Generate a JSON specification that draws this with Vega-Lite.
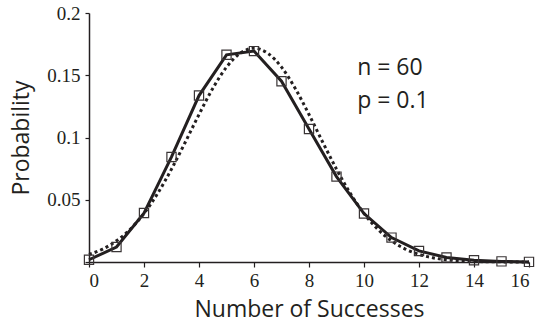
{
  "$schema": "https://vega.github.io/schema/vega-lite/v6.json",
  "width": 440,
  "height": 249,
  "autosize": "none",
  "padding": {"left": 89, "top": 13, "right": 13, "bottom": 64},
  "background": "white",
  "config": {"view": {"stroke": null}},
  "datasets": {
    "binom": [
      {"k": 0, "p": 0.0018}, {"k": 1, "p": 0.0120}, {"k": 2, "p": 0.0393},
      {"k": 3, "p": 0.0844}, {"k": 4, "p": 0.1337}, {"k": 5, "p": 0.1664},
      {"k": 6, "p": 0.1694}, {"k": 7, "p": 0.1452}, {"k": 8, "p": 0.1068},
      {"k": 9, "p": 0.0686}, {"k": 10, "p": 0.0389}, {"k": 11, "p": 0.0196},
      {"k": 12, "p": 0.0089}, {"k": 13, "p": 0.0037}, {"k": 14, "p": 0.0014},
      {"k": 15, "p": 0.0005}, {"k": 16, "p": 0.0001}
    ],
    "normal": [
      {"x": 0, "y": 0.0061}, {"x": 0.5, "y": 0.0104}, {"x": 1, "y": 0.0170},
      {"x": 1.5, "y": 0.0263}, {"x": 2, "y": 0.0390}, {"x": 2.5, "y": 0.0552},
      {"x": 3, "y": 0.0746}, {"x": 3.5, "y": 0.0962}, {"x": 4, "y": 0.1185},
      {"x": 4.5, "y": 0.1394}, {"x": 5, "y": 0.1565}, {"x": 5.5, "y": 0.1677},
      {"x": 6, "y": 0.1717}, {"x": 6.5, "y": 0.1677}, {"x": 7, "y": 0.1565},
      {"x": 7.5, "y": 0.1394}, {"x": 8, "y": 0.1185}, {"x": 8.5, "y": 0.0962},
      {"x": 9, "y": 0.0746}, {"x": 9.5, "y": 0.0552}, {"x": 10, "y": 0.0390},
      {"x": 10.5, "y": 0.0263}, {"x": 11, "y": 0.0170}, {"x": 11.5, "y": 0.0104},
      {"x": 12, "y": 0.0061}, {"x": 12.5, "y": 0.0034}, {"x": 13, "y": 0.0018},
      {"x": 13.5, "y": 0.0009}, {"x": 14, "y": 0.0005}, {"x": 14.5, "y": 0.0002},
      {"x": 15, "y": 0.0001}, {"x": 16, "y": 0.0000}
    ],
    "notes": [
      {"label": "n = 60", "x": 9.75, "y": 0.1562},
      {"label": "p = 0.1", "x": 9.75, "y": 0.1295}
    ]
  },
  "layer": [
    {
      "data": {"name": "normal"},
      "mark": {"type": "line", "color": "#231f20", "strokeWidth": 3, "strokeDash": [3, 3], "interpolate": "monotone"},
      "encoding": {
        "x": {
          "field": "x", "type": "quantitative",
          "scale": {"domain": [0, 16], "nice": false},
          "axis": {
            "title": "Number of Successes", "values": [0, 2, 4, 6, 8, 10, 12, 14, 16],
            "grid": false, "domainColor": "#231f20", "domainWidth": 1.5,
            "tickColor": "#231f20", "tickWidth": 1.2, "tickSize": 5,
            "labelFont": "Liberation Serif", "labelFontSize": 19, "labelColor": "#231f20", "labelPadding": 4,
            "titleFont": "Open Sans", "titleFontSize": 23, "titleFontWeight": "normal", "titleColor": "#231f20", "titlePadding": 8
          }
        },
        "y": {
          "field": "y", "type": "quantitative",
          "scale": {"domain": [0, 0.2], "nice": false},
          "axis": {
            "title": "Probability", "values": [0, 0.05, 0.1, 0.15, 0.2], "format": ".2~f",
            "labelExpr": "datum.value == 0 ? '' : datum.label",
            "grid": false, "domainColor": "#231f20", "domainWidth": 1.5,
            "tickColor": "#231f20", "tickWidth": 1.2, "tickSize": 4,
            "labelFont": "Liberation Serif", "labelFontSize": 19, "labelColor": "#231f20", "labelPadding": 5,
            "titleFont": "Open Sans", "titleFontSize": 23, "titleFontWeight": "normal", "titleColor": "#231f20", "titlePadding": 13
          }
        }
      }
    },
    {
      "data": {"name": "binom"},
      "mark": {"type": "line", "color": "#231f20", "strokeWidth": 3},
      "encoding": {
        "x": {"field": "k", "type": "quantitative"},
        "y": {"field": "p", "type": "quantitative"}
      }
    },
    {
      "data": {"name": "binom"},
      "mark": {"type": "point", "shape": "square", "size": 85, "filled": false, "color": "#3a3536", "strokeWidth": 1.2, "opacity": 1},
      "encoding": {
        "x": {"field": "k", "type": "quantitative"},
        "y": {"field": "p", "type": "quantitative"}
      }
    },
    {
      "data": {"name": "notes"},
      "mark": {"type": "text", "align": "left", "baseline": "middle", "font": "Open Sans", "fontSize": 23, "color": "#231f20"},
      "encoding": {
        "x": {"field": "x", "type": "quantitative"},
        "y": {"field": "y", "type": "quantitative"},
        "text": {"field": "label"}
      }
    }
  ]
}
